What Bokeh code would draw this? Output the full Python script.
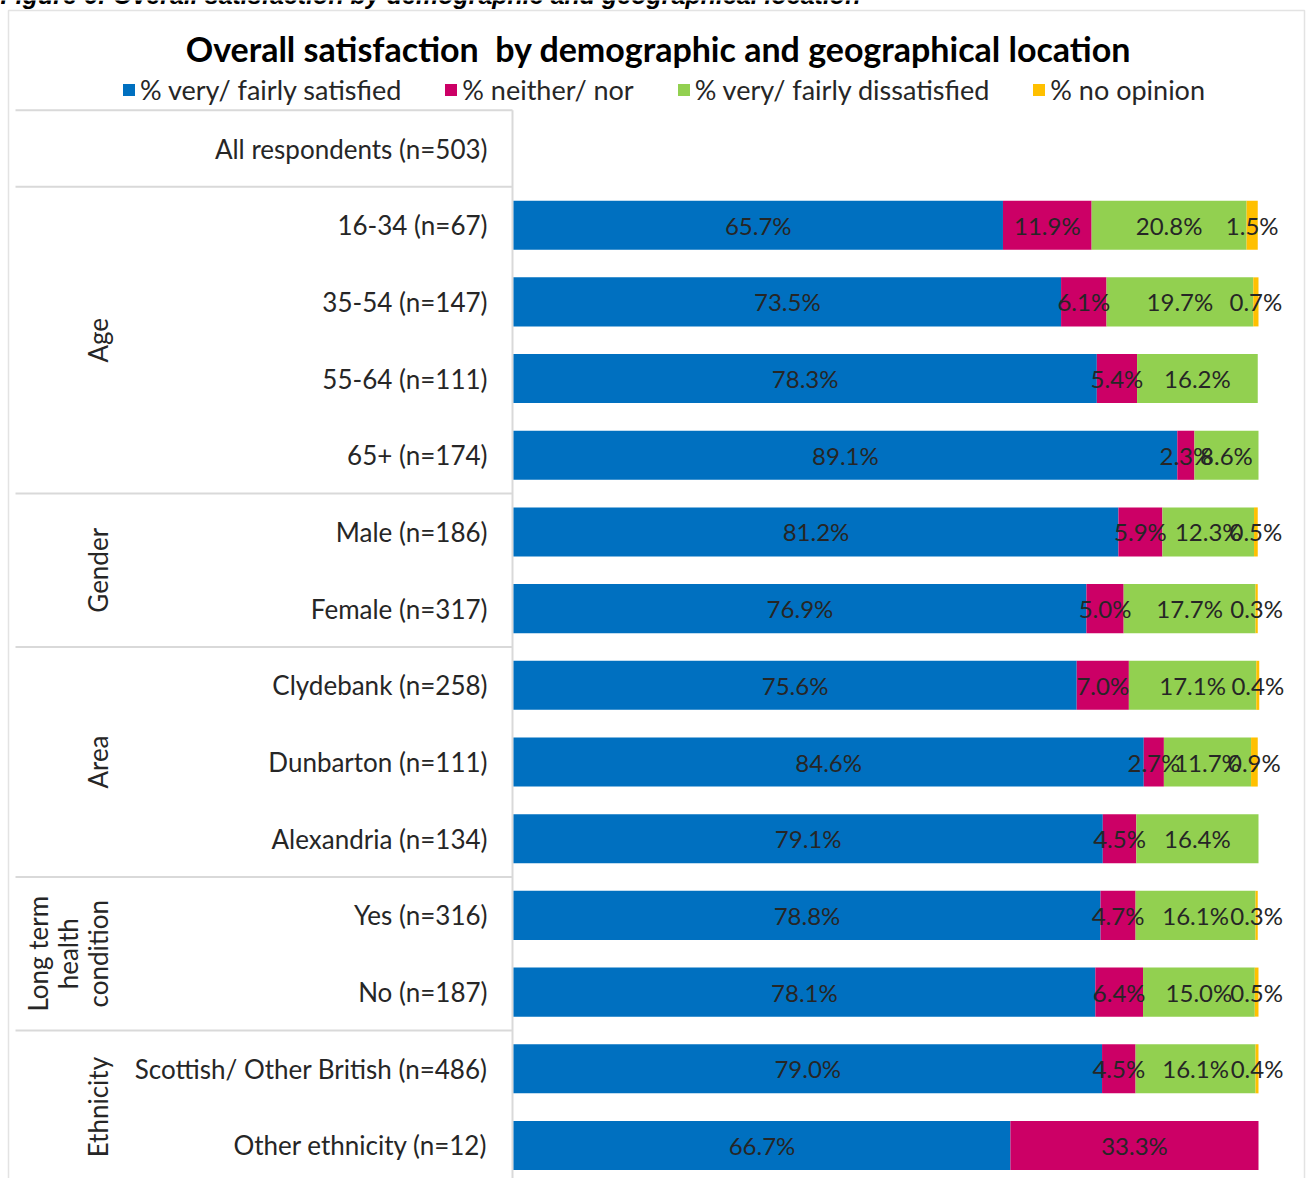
import numpy as np
from bokeh.plotting import figure
from bokeh.models import Range1d, ColumnDataSource, Legend, LegendItem
from bokeh.core.properties import value
from bokeh.embed import file_html
from bokeh.resources import INLINE

# ---- data -------------------------------------------------------------
categories = [
    "All respondents (n=503)",
    "16-34 (n=67)", "35-54 (n=147)", "55-64 (n=111)", "65+ (n=174)",
    "Male (n=186)", "Female (n=317)",
    "Clydebank (n=258)", "Dunbarton (n=111)", "Alexandria (n=134)",
    "Yes (n=316)", "No (n=187)",
    "Scottish/ Other British (n=486)", "Other ethnicity (n=12)",
]
satisfied    = [0.0, 65.7, 73.5, 78.3, 89.1, 81.2, 76.9, 75.6, 84.6, 79.1, 78.8, 78.1, 79.0, 66.7]
neither      = [0.0, 11.9,  6.1,  5.4,  2.3,  5.9,  5.0,  7.0,  2.7,  4.5,  4.7,  6.4,  4.5, 33.3]
dissatisfied = [0.0, 20.8, 19.7, 16.2,  8.6, 12.3, 17.7, 17.1, 11.7, 16.4, 16.1, 15.0, 16.1,  0.0]
no_opinion   = [0.0,  1.5,  0.7,  0.0,  0.0,  0.5,  0.3,  0.4,  0.9,  0.0,  0.3,  0.5,  0.4,  0.0]

series_names = ["% very/ fairly satisfied", "% neither/ nor",
                "% very/ fairly dissatisfied", "% no opinion"]
series_colors = ["#0070C0", "#CC0066", "#92D050", "#FFC000"]

group_names = ["Age", "Gender", "Area", "Long term health condition", "Ethnicity"]
group_lines = [["Age"], ["Gender"], ["Area"], ["Long term", "health", "condition"], ["Ethnicity"]]
group_sizes = [4, 2, 3, 2, 2]

title = "Overall satisfaction\u00a0 by demographic and geographical location"
caption = "Figure 6: Overall satisfaction by demographic and geographical location"

# ---- layout (pixels) --------------------------------------------------
W, H = 1306, 1178
BAR_X0 = 513.0          # pixel where 0 % sits
PX_PER_PCT = 7.45       # pixels per percentage point
ROW0_Y = 148.0          # pixel centre of the first row
ROW_H = 76.69           # pixel pitch between rows
FONT = "Lato"
TEXT_COLOR = "#262626"
RULE_COLOR = "#D9D9D9"


def sx(px):
    return (px - BAR_X0) / PX_PER_PCT


def sy(py):
    return (py - ROW0_Y) / ROW_H


p = figure(width=W, height=H, min_border=0,
           x_range=Range1d(sx(0), sx(W)), y_range=Range1d(sy(H), sy(0)),
           toolbar_location=None, output_backend="svg")
p.axis.visible = False
p.grid.visible = False
p.outline_line_color = None
p.background_fill_color = "white"
p.border_fill_color = "white"

rows = np.arange(len(categories))
vals = np.array([satisfied, neither, dissatisfied, no_opinion])
ends = np.cumsum(vals, axis=0)
starts = ends - vals

# chart frame
p.quad(left=[sx(8)], right=[sx(1304)], top=[sy(10)], bottom=[sy(H + 10)],
       fill_alpha=0, line_color="#E3E3E3", line_width=1.5)

# category table rules
bounds = [-0.5, 0.5] + list(0.5 + np.cumsum(group_sizes)[:-1])
p.segment(x0=sx(15), x1=sx(512), y0=bounds, y1=bounds,
          line_color=RULE_COLOR, line_width=2)
p.segment(x0=[sx(512)], x1=[sx(512)], y0=[-0.5], y1=[sy(H + 5)],
          line_color=RULE_COLOR, line_width=2)

# stacked bars
renderers = []
for k, (name, color) in enumerate(zip(series_names, series_colors)):
    src = ColumnDataSource(dict(y=rows, left=starts[k], right=ends[k]))
    r = p.hbar(y="y", left="left", right="right", height=0.64, source=src,
               fill_color=color, line_color=None)
    renderers.append(r)

# value labels centred on each segment
lx, ly, lt = [], [], []
for k in range(len(series_names)):
    for i in rows:
        v = vals[k, i]
        if v > 0:
            lx.append(starts[k, i] + v / 2)
            ly.append(i)
            lt.append(f"{v:.1f}%")
p.text(x=lx, y=ly, text=lt, text_align="center", text_baseline="middle",
       text_font=value(FONT), text_font_size="24px", text_color=TEXT_COLOR)

# category labels
p.text(x=[sx(487)] * len(categories), y=rows, text=categories,
       text_align="right", text_baseline="middle",
       text_font=value(FONT), text_font_size="26px", text_color=TEXT_COLOR)

# group labels, rotated
first = 1
gx, gy, gt = [], [], []
for lines, size in zip(group_lines, group_sizes):
    centre = first + (size - 1) / 2
    n = len(lines)
    for j, line in enumerate(lines):
        gx.append(sx(97 - (n - 1 - j) * 30))
        gy.append(centre)
        gt.append(line)
    first += size
p.text(x=gx, y=gy, text=gt, angle=np.pi / 2, text_align="center",
       text_baseline="middle", text_font=value(FONT), text_font_size="26px",
       text_color=TEXT_COLOR)

# title and caption
p.text(x=[sx(658)], y=[sy(48)], text=[title], text_align="center",
       text_baseline="middle", text_font=value(FONT), text_font_style="bold",
       text_font_size="34px", text_color="black")
p.text(x=[sx(0)], y=[sy(8)], text=[caption], text_align="left",
       text_baseline="bottom", text_font=value("Liberation Sans"),
       text_font_style="bold italic", text_font_size="25px", text_color="black")

legend = Legend(items=[LegendItem(label=n, renderers=[r])
                       for n, r in zip(series_names, renderers)],
                orientation="horizontal", location=(121, H - 106),
                glyph_width=15, glyph_height=15, label_standoff=4, spacing=42,
                padding=0, margin=0, border_line_alpha=0, background_fill_alpha=0,
                label_text_font=FONT, label_text_font_size="27px",
                label_text_color=TEXT_COLOR)
p.add_layout(legend)

open("out.html", "w").write(file_html(p, INLINE))
